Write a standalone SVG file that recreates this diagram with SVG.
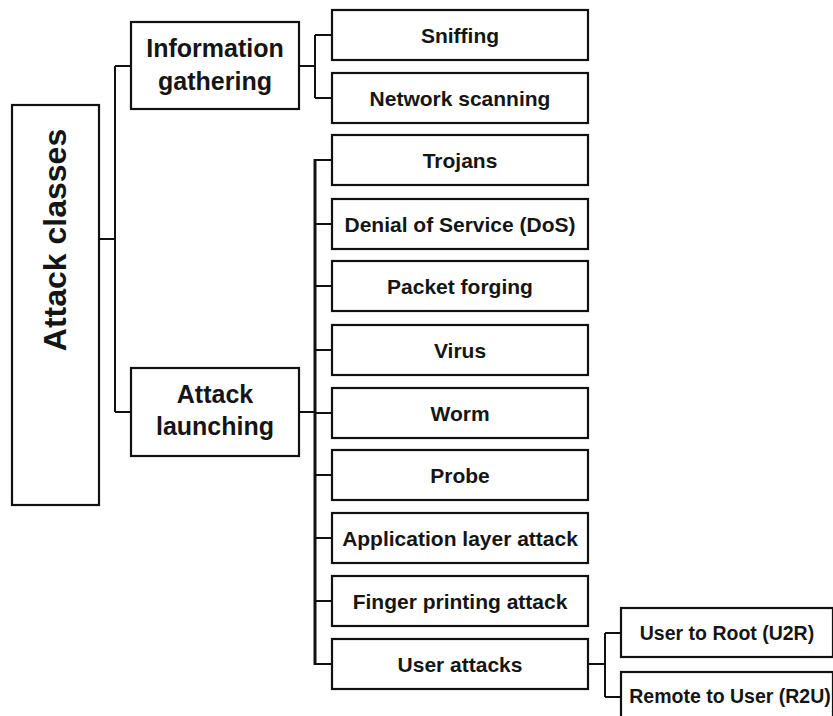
<svg xmlns="http://www.w3.org/2000/svg" width="833" height="716" viewBox="0 0 833 716">
<style>
rect{fill:#fff;stroke:#111;stroke-width:2.2}
text{font-family:"Liberation Sans",Arial,sans-serif;font-weight:bold;fill:#151515;text-anchor:middle}
.c{font-size:21px}
.m{font-size:25px}
.s{font-size:19.5px}
.edge{fill:none;stroke:#111;stroke-width:2}
</style>
<rect x="0" y="0" width="833" height="716" style="fill:#fff;stroke:none"/>
<g id="connectors">
<path class="edge" d="M99,239 H115 M115,66 V412 M115,66 H131 M115,412 H131"/>
<path class="edge" d="M299,66 H315 M315,35 V98 M315,35 H332 M315,98 H332"/>
<path class="edge" d="M299,412 H315 M315,160 H332 M315,224 H332 M315,286 H332 M315,350 H332 M315,413 H332 M315,475 H332 M315,538 H332 M315,601 H332 M315,664 H332"/>
<path class="edge" style="stroke-width:3" d="M315,159 V665"/>
<path class="edge" d="M588,664 H605 M605,633 V697 M605,633 H621 M605,697 H621"/>
</g>
<g id="root"><rect x="12" y="105" width="87" height="400"/><text transform="translate(66,240) rotate(-90)" style="font-size:32px">Attack classes</text></g>
<g id="info"><rect x="131" y="22" width="168" height="87"/><text class="m" x="215" y="57">Information</text><text class="m" x="215" y="90">gathering</text></g>
<g id="launch"><rect x="131" y="368" width="168" height="88"/><text class="m" x="215" y="403">Attack</text><text class="m" x="215" y="435">launching</text></g>
<g id="sniffing"><rect x="332" y="10" width="256" height="50"/><text class="c" x="460" y="43">Sniffing</text></g>
<g id="scanning"><rect x="332" y="73" width="256" height="50"/><text class="c" x="460" y="106">Network scanning</text></g>
<g id="trojans"><rect x="332" y="135" width="256" height="50"/><text class="c" x="460" y="168">Trojans</text></g>
<g id="dos"><rect x="332" y="199" width="256" height="50"/><text class="c" x="460" y="232">Denial of Service (DoS)</text></g>
<g id="forging"><rect x="332" y="261" width="256" height="50"/><text class="c" x="460" y="294">Packet forging</text></g>
<g id="virus"><rect x="332" y="325" width="256" height="50"/><text class="c" x="460" y="358">Virus</text></g>
<g id="worm"><rect x="332" y="388" width="256" height="50"/><text class="c" x="460" y="421">Worm</text></g>
<g id="probe"><rect x="332" y="450" width="256" height="50"/><text class="c" x="460" y="483">Probe</text></g>
<g id="applayer"><rect x="332" y="513" width="256" height="50"/><text class="c" x="460" y="546">Application layer attack</text></g>
<g id="fingerprint"><rect x="332" y="576" width="256" height="50"/><text class="c" x="460" y="609">Finger printing attack</text></g>
<g id="user"><rect x="332" y="639" width="256" height="50"/><text class="c" x="460" y="672">User attacks</text></g>
<g id="u2r"><rect x="621" y="608" width="212" height="49"/><text class="s" x="727" y="640">User to Root (U2R)</text></g>
<g id="r2u"><rect x="621" y="672" width="212" height="52"/><text class="s" x="730" y="703">Remote to User (R2U)</text></g>
</svg>
